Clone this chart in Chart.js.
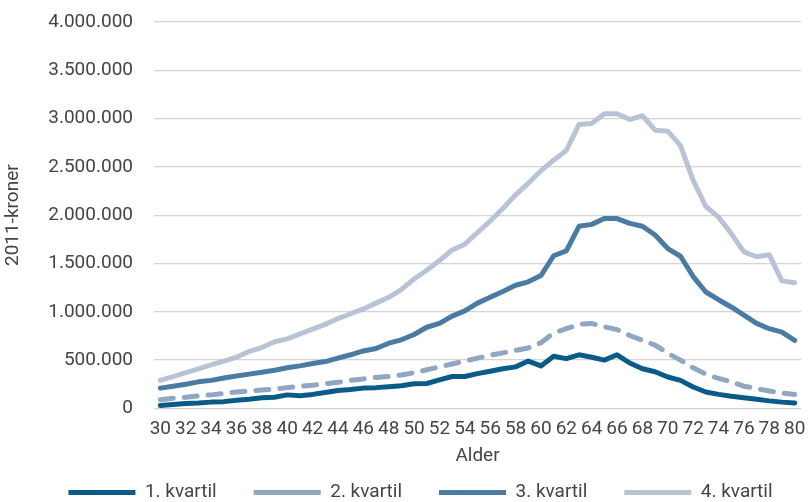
<!DOCTYPE html>
<html>
<head>
<meta charset="utf-8">
<script src="https://cdn.jsdelivr.net/npm/chart.js@4.4.1/dist/chart.umd.min.js"></script>
<style>
  html, body { margin: 0; padding: 0; background: #fff; overflow: hidden; }
  #wrap { width: 808px; height: 502px; overflow: hidden; }
  #box { width: 808px; height: 512px; position: relative; }
</style>
</head>
<body>
<div id="wrap"><div id="box"><canvas id="formueChart"></canvas></div></div>
<script>
// Alder 30-80
const alder = [];
for (let a = 30; a <= 80; a++) alder.push(String(a));

// Formue i 1.000 2011-kroner pr. alder
const kvartil1 = [30, 40, 50, 55, 65, 70, 85, 95, 110, 115, 140, 130, 145, 165, 185, 195, 210, 215, 225, 235,
  255, 258, 295, 330, 330, 360, 385, 410, 430, 490, 440, 540, 515, 555, 530, 500, 555, 470, 410, 380,
  325, 290, 222, 170, 145, 125, 110, 95, 78, 65, 55];
const kvartil2 = [90, 105, 115, 130, 140, 155, 170, 180, 190, 200, 215, 230, 240, 255, 270, 290, 305, 320, 330, 345,
  370, 400, 430, 460, 490, 520, 550, 575, 600, 625, 680, 780, 825, 870, 880, 845, 815, 755, 705, 655,
  570, 500, 420, 355, 310, 275, 230, 205, 180, 160, 145];
const kvartil3 = [210, 230, 250, 275, 290, 315, 335, 355, 375, 395, 420, 440, 465, 485, 520, 555, 595, 620, 675, 710,
  765, 840, 880, 955, 1010, 1090, 1150, 1210, 1275, 1310, 1375, 1580, 1630, 1885, 1905, 1965, 1965, 1915, 1885, 1795,
  1655, 1575, 1365, 1205, 1125, 1050, 965, 880, 825, 790, 705];
const kvartil4 = [290, 330, 370, 410, 450, 490, 530, 590, 630, 690, 720, 770, 820, 870, 930, 980, 1030, 1090, 1150, 1230,
  1340, 1430, 1530, 1640, 1700, 1820, 1940, 2070, 2210, 2330, 2460, 2570, 2670, 2940, 2950, 3050, 3050, 2990, 3030, 2880,
  2870, 2720, 2360, 2090, 1980, 1810, 1620, 1570, 1590, 1320, 1300];

const serieNavne = ['1. kvartil', '2. kvartil', '3. kvartil', '4. kvartil'];
const farver = ['#0b5b89', '#8fa7c2', '#4a7ca3', '#b8c4d6'];

const tekstFarve = '#454545';
const font = { family: 'Roboto', size: 19 };

function tusind(v) {
  return String(v).replace(/\B(?=(\d{3})+(?!\d))/g, '.');
}

const kr = arr => arr.map(v => v * 1000);

const datasets = [kvartil1, kvartil2, kvartil3, kvartil4].map((serie, i) => ({
  label: serieNavne[i],
  data: kr(serie),
  borderColor: farver[i],
  backgroundColor: farver[i],
  borderWidth: 5,
  borderCapStyle: 'round',
  borderJoinStyle: 'round',
  borderDash: i === 1 ? [13, 11] : [],
  pointRadius: 0,
  tension: 0
}));

// forklaringen står lidt til højre for midten
const flytLegend = {
  id: 'flytLegend',
  afterLayout(chart) {
    chart.legend.left += 20;
    chart.legend.right += 20;
  }
};

Chart.defaults.font.family = 'Roboto';
Chart.defaults.color = tekstFarve;

new Chart(document.getElementById('formueChart'), {
  type: 'line',
  data: { labels: alder, datasets },
  plugins: [flytLegend],
  options: {
    responsive: true,
    maintainAspectRatio: false,
    animation: false,
    layout: { padding: { top: 22, right: 7, left: 0, bottom: 0 } },
    plugins: {
      tooltip: { enabled: false },
      legend: {
        position: 'bottom',
        labels: {
          font,
          color: tekstFarve,
          usePointStyle: true,
          pointStyle: 'line',
          pointStyleWidth: 67,
          padding: 37
        }
      }
    },
    scales: {
      x: {
        offset: true,
        grid: { display: false, drawTicks: true, tickLength: 9 },
        border: { display: false },
        ticks: {
          font,
          color: tekstFarve,
          autoSkip: false,
          maxRotation: 0,
          padding: 0,
          callback: (v, i) => (i % 2 === 0 ? alder[i] : '')
        },
        title: { display: true, text: 'Alder', font, color: tekstFarve, padding: { top: 5, bottom: -22 } }
      },
      y: {
        min: 0,
        max: 4000000,
        grid: { color: '#d4d4d4', lineWidth: 1.3, drawTicks: true, tickLength: 21, tickColor: 'rgba(0,0,0,0)' },
        border: { display: false },
        ticks: {
          font,
          color: tekstFarve,
          stepSize: 500000,
          padding: 0,
          callback: v => tusind(v)
        },
        title: { display: true, text: '2011-kroner', font, color: tekstFarve, padding: { top: 2, bottom: 0 } },
        afterFit: s => { s.width = 154; }
      }
    }
  }
});
</script>
</body>
</html>
